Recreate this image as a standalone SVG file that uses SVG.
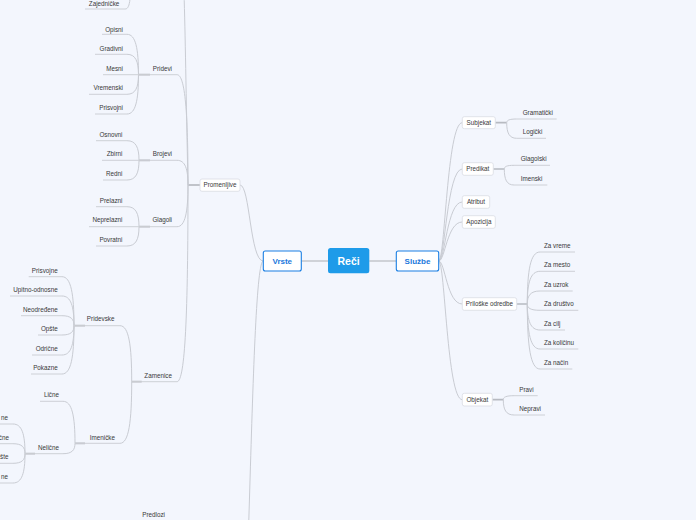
<svg xmlns="http://www.w3.org/2000/svg" width="696" height="520" viewBox="0 0 696 520">
<style>
.ln{fill:none;stroke:#c9ccd3;stroke-width:1}
.ul{fill:none;stroke:#cdd0d6;stroke-width:1}
.stub{fill:none;stroke:#b7bac1;stroke-width:1.7}
.main{fill:none;stroke:#c3c6cc;stroke-width:1.6}
.t{font-family:"Liberation Sans",Arial,sans-serif;font-size:6.3px;fill:#383838}
.e{text-anchor:end}
.m{text-anchor:middle}
.box{fill:#fff;stroke:#d9dce3;stroke-width:0.8}
.l1{fill:#fff;stroke:#1b7fe3;stroke-width:1.1}
.l1t{font-family:"Liberation Sans",Arial,sans-serif;font-size:8px;font-weight:bold;fill:#1b78dc;text-anchor:middle}
.rt{font-family:"Liberation Sans",Arial,sans-serif;font-size:10.5px;font-weight:bold;fill:#fff;text-anchor:middle}
</style>
<rect width="696" height="520" fill="#f3f6fd"/>
<g id="connectors">
<path class="main" d="M301.3 261H328M369.3 261H396.3"/>
<path class="ln" d="M263.3 261C250 261 250 185 240 185"/>
<path class="ln" d="M263.3 261C250 261 250 700 235 760"/>
<path class="stub" d="M188 185H200"/>
<path class="ln" d="M177 -60C185 -60 184 0 188 185"/>
<path class="ln" d="M177 74.7C185.2 74.7 188 113.3 188 185"/>
<path class="ln" d="M177 160.3C185.2 160.3 188 168.9 188 185"/>
<path class="ln" d="M177 226.7C185.2 226.7 188 212.1 188 185"/>
<path class="ln" d="M177 381.7C185.2 381.7 188 312.9 188 185"/>
<path class="ln" d="M125 9C129.5 9 131 2 131 -30"/>
<path class="stub" d="M138.5 74.7H150M139 160.3H150M139 226.7H150M131.7 381.7H141.7M74 325.7H85M75 443.3H85M25 453.7H35"/>
<path class="ln" d="M127 34.3C135.6 34.3 138.5 48.4 138.5 74.7M127 54.3C135.6 54.3 138.5 61.4 138.5 74.7M127 94.3C135.6 94.3 138.5 87.4 138.5 74.7M127 114C135.6 114 138.5 100.2 138.5 74.7"/>
<path class="ln" d="M127 140.7C136 140.7 139 147.6 139 160.3M127 180C136 180 139 173.1 139 160.3"/>
<path class="ln" d="M127 206.7C136 206.7 139 213.7 139 226.7M127 246C136 246 139 239.2 139 226.7"/>
<path class="ln" d="M120 325.7C128.8 325.7 131.7 345.3 131.7 381.7M120 443.3C128.8 443.3 131.7 421.7 131.7 381.7"/>
<path class="ln" d="M62 276.7C71 276.7 74 293.9 74 325.7M62 296C71 296 74 306.4 74 325.7M62 315.7C71 315.7 74 319.2 74 325.7M62 335C71 335 74 331.7 74 325.7M62 355C71 355 74 344.7 74 325.7M62 374C71 374 74 357.1 74 325.7"/>
<path class="ln" d="M63 401.3C72 401.3 75 416 75 443.3M63 453.7C72 453.7 75 450.1 75 443.3"/>
<path class="ln" d="M13 424C22 424 25 434.4 25 453.7M13 443.7C22 443.7 25 447.2 25 453.7M13 463.3C22 463.3 25 459.9 25 453.7M13 483C22 483 25 472.7 25 453.7"/>
<path class="ln" d="M438.7 261C445 261 447 122.7 462.3 122.7M438.7 261C445 261 447 169 462.3 169M438.7 261C445 261 447 202 462.3 202M438.7 261C445 261 447 222 462.3 222M438.7 261C445 261 447 304 462.3 304M438.7 261C445 261 447 399.7 462.3 399.7"/>
<path class="stub" d="M495.3 122.7H506.7M493.3 169H504.3M516.7 304H527.3M492.3 399.7H503.3"/>
<path class="ln" d="M516.7 119C509.2 119 506.7 120.3 506.7 122.7M516.7 138.3C509.2 138.3 506.7 132.8 506.7 122.7"/>
<path class="ln" d="M514 165.3C506.7 165.3 504.3 166.6 504.3 169M514 185C506.7 185 504.3 179.4 504.3 169"/>
<path class="ln" d="M540 252C530.5 252 527.3 270.2 527.3 304M540 271.3C530.5 271.3 527.3 282.7 527.3 304M540 291C530.5 291 527.3 295.6 527.3 304M540 310.3C530.5 310.3 527.3 308.1 527.3 304M540 330C530.5 330 527.3 320.9 527.3 304M540 349C530.5 349 527.3 333.3 527.3 304M540 369C530.5 369 527.3 346.3 527.3 304"/>
<path class="ln" d="M514 395.7C506 395.7 503.3 397.1 503.3 399.7M514 415C506 415 503.3 409.6 503.3 399.7"/>
</g>
<g id="n-reci"><rect x="328" y="248" width="41.3" height="25.3" rx="2.5" fill="#1e9be9"/><text class="rt" x="348.6" y="264.5">Reči</text></g>
<g id="n-vrste"><rect class="l1" x="263.3" y="251" width="38" height="20" rx="2"/><text class="l1t" x="282.3" y="263.9">Vrste</text></g>
<g id="n-sluzbe"><rect class="l1" x="396.3" y="251" width="42.4" height="20" rx="2"/><text class="l1t" x="417.5" y="263.9">Službe</text></g>
<g id="n-promenljive"><rect class="box" x="200" y="179" width="40" height="12.3" rx="2"/><text class="t m" x="220" y="187.3">Promenljive</text></g>
<g id="n-zajednicke"><path class="ul" d="M85 9H125"/><text class="t e" x="119.3" y="5.5">Zajedničke</text></g>
<g id="n-pridevi"><path class="ul" d="M138.5 74.7H177"/><text class="t e" x="172" y="71.2">Pridevi</text></g>
<g id="n-opisni"><path class="ul" d="M102 34.3H127"/><text class="t e" x="123" y="32.2">Opisni</text></g>
<g id="n-gradivni"><path class="ul" d="M95 54.3H127"/><text class="t e" x="123" y="51.2">Gradivni</text></g>
<g id="n-mesni"><path class="ul" d="M103 74.7H138.5"/><text class="t e" x="123" y="71.2">Mesni</text></g>
<g id="n-vremenski"><path class="ul" d="M89 94.3H127"/><text class="t e" x="123" y="90.2">Vremenski</text></g>
<g id="n-prisvojni"><path class="ul" d="M95 114H127"/><text class="t e" x="123" y="110.2">Prisvojni</text></g>
<g id="n-brojevi"><path class="ul" d="M139 160.3H177"/><text class="t e" x="172" y="156.2">Brojevi</text></g>
<g id="n-osnovni"><path class="ul" d="M96 140.7H127"/><text class="t e" x="122.5" y="137.2">Osnovni</text></g>
<g id="n-zbirni"><path class="ul" d="M102 160.3H139"/><text class="t e" x="122.5" y="156.2">Zbirni</text></g>
<g id="n-redni"><path class="ul" d="M103 180H127"/><text class="t e" x="122.5" y="176.2">Redni</text></g>
<g id="n-glagoli"><path class="ul" d="M139 226.7H177"/><text class="t e" x="172" y="222.2">Glagoli</text></g>
<g id="n-prelazni"><path class="ul" d="M96 206.7H127"/><text class="t e" x="122.5" y="203.2">Prelazni</text></g>
<g id="n-neprelazni"><path class="ul" d="M89 226.7H139"/><text class="t e" x="122.5" y="222.2">Neprelazni</text></g>
<g id="n-povratni"><path class="ul" d="M96 246H127"/><text class="t e" x="122.5" y="242.2">Povratni</text></g>
<g id="n-zamenice"><path class="ul" d="M131.7 381.7H177"/><text class="t e" x="172" y="378.2">Zamenice</text></g>
<g id="n-pridevske"><path class="ul" d="M74 325.7H120"/><text class="t e" x="114.5" y="321.2">Pridevske</text></g>
<g id="n-imenicke"><path class="ul" d="M75 443.3H120"/><text class="t e" x="115" y="440.2">Imeničke</text></g>
<g id="n-prisvojne"><path class="ul" d="M28.7 276.7H62"/><text class="t e" x="57.7" y="273.2">Prisvojne</text></g>
<g id="n-upitno"><path class="ul" d="M10 296H62"/><text class="t e" x="57.7" y="292.2">Upitno-odnosne</text></g>
<g id="n-neodredjene"><path class="ul" d="M21 315.7H62"/><text class="t e" x="57.7" y="312.2">Neodređene</text></g>
<g id="n-opste"><path class="ul" d="M38 335H62"/><text class="t e" x="57.7" y="331.2">Opšte</text></g>
<g id="n-odricne"><path class="ul" d="M32 355H62"/><text class="t e" x="57.7" y="351.2">Odrične</text></g>
<g id="n-pokazne"><path class="ul" d="M31 374H62"/><text class="t e" x="57.7" y="370.2">Pokazne</text></g>
<g id="n-licne"><path class="ul" d="M40 401.3H63"/><text class="t e" x="59" y="397.2">Lične</text></g>
<g id="n-nelicne"><path class="ul" d="M25 453.7H63"/><text class="t e" x="59" y="450.2">Nelične</text></g>
<g id="n-nel1"><path class="ul" d="M-40 424H13"/><text class="t e" x="8" y="420.2">ne</text></g>
<g id="n-nel2"><path class="ul" d="M-40 443.7H13"/><text class="t e" x="9" y="440.2">čne</text></g>
<g id="n-nel3"><path class="ul" d="M-40 463.3H13"/><text class="t e" x="8.5" y="459.2">šte</text></g>
<g id="n-nel4"><path class="ul" d="M-40 483H13"/><text class="t e" x="8" y="479.2">ne</text></g>
<g id="n-predlozi"><text class="t e" x="165" y="517.2">Predlozi</text></g>
<g id="n-subjekat"><rect class="box" x="462.3" y="116.7" width="33" height="12" rx="2"/><text class="t m" x="478.8" y="124.9">Subjekat</text></g>
<g id="n-predikat"><rect class="box" x="462.3" y="162.7" width="31" height="12.6" rx="2"/><text class="t m" x="477.8" y="171.2">Predikat</text></g>
<g id="n-atribut"><rect class="box" x="462.3" y="195.7" width="27.4" height="12.6" rx="2"/><text class="t m" x="476" y="204.2">Atribut</text></g>
<g id="n-apozicija"><rect class="box" x="462.3" y="215.7" width="33" height="12.6" rx="2"/><text class="t m" x="478.8" y="224.2">Apozicija</text></g>
<g id="n-priloske"><rect class="box" x="462.3" y="297.7" width="54.4" height="12.6" rx="2"/><text class="t m" x="489.5" y="306.2">Priloške odredbe</text></g>
<g id="n-objekat"><rect class="box" x="462.3" y="393.3" width="30" height="12.7" rx="2"/><text class="t m" x="477.3" y="401.9">Objekat</text></g>
<g id="n-gramaticki"><path class="ul" d="M516.7 119H556.7"/><text class="t" x="522.7" y="114.9">Gramatički</text></g>
<g id="n-logicki"><path class="ul" d="M516.7 138.3H546"/><text class="t" x="522.7" y="134.2">Logički</text></g>
<g id="n-glagolski"><path class="ul" d="M514 165.3H550"/><text class="t" x="520.7" y="161.2">Glagolski</text></g>
<g id="n-imenski"><path class="ul" d="M514 185H547.3"/><text class="t" x="520.7" y="181.2">Imenski</text></g>
<g id="n-zavreme"><path class="ul" d="M540 252H575"/><text class="t" x="544" y="248.2">Za vreme</text></g>
<g id="n-zamesto"><path class="ul" d="M540 271.3H575"/><text class="t" x="544" y="267.2">Za mesto</text></g>
<g id="n-zauzrok"><path class="ul" d="M540 291H572.7"/><text class="t" x="544" y="287.2">Za uzrok</text></g>
<g id="n-zadrustvo"><path class="ul" d="M540 310.3H578.3"/><text class="t" x="544" y="306.2">Za društvo</text></g>
<g id="n-zacilj"><path class="ul" d="M540 330H565"/><text class="t" x="544" y="326.2">Za cilj</text></g>
<g id="n-zakolicinu"><path class="ul" d="M540 349H578.3"/><text class="t" x="544" y="345.2">Za količinu</text></g>
<g id="n-zanacin"><path class="ul" d="M540 369H572.3"/><text class="t" x="544" y="365.2">Za način</text></g>
<g id="n-pravi"><path class="ul" d="M514 395.7H537.7"/><text class="t" x="519.3" y="392.2">Pravi</text></g>
<g id="n-nepravi"><path class="ul" d="M514 415H545"/><text class="t" x="519.3" y="411.2">Nepravi</text></g>
</svg>
